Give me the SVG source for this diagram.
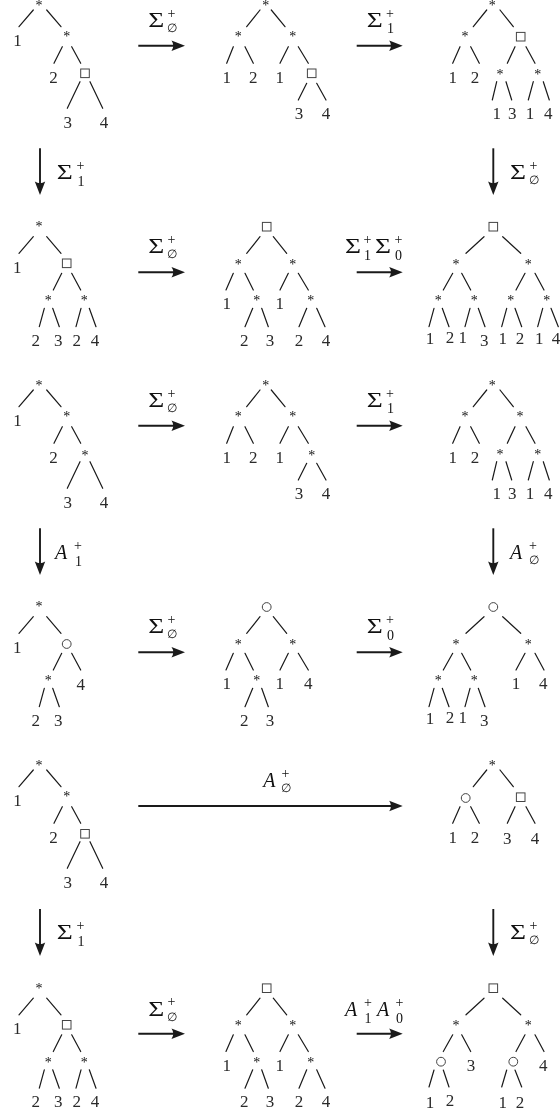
<svg xmlns="http://www.w3.org/2000/svg" width="560" height="1113" viewBox="0 0 560 1113">
<style>
.e{stroke:#1a1a1a;stroke-width:1.2;fill:none;stroke-linecap:round}
.d{font-family:'Liberation Serif','Times New Roman','DejaVu Serif',serif;font-size:17px;fill:#2a2a2a;text-anchor:middle}
.s{font-family:'Liberation Serif','Times New Roman','DejaVu Serif',serif;font-size:14px;fill:#111;text-anchor:middle}
.b{fill:#fff;stroke:#444;stroke-width:1}
.a{stroke:#1a1a1a;stroke-width:1.9;fill:none}
.L{font-family:'Liberation Serif','Times New Roman','DejaVu Serif',serif;font-size:20px;fill:#111}
.I{font-family:'Liberation Serif','Times New Roman','DejaVu Serif',serif;font-size:20px;font-style:italic;fill:#111}
.m{font-family:'Liberation Serif','Times New Roman','DejaVu Serif',serif;font-size:14px;fill:#111}
.o{font-family:'DejaVu Serif',serif;font-size:12px;fill:#111}
</style>
<defs>
<marker id="ah" markerUnits="userSpaceOnUse" markerWidth="14" markerHeight="12" viewBox="0 0 14 12" refX="8" refY="6" orient="auto"><path d="M14 6L0.5 0.8Q4 6 0.5 11.2Z" fill="#1a1a1a"/></marker>
<filter id="gray" filterUnits="userSpaceOnUse" x="0" y="0" width="560" height="1113" color-interpolation-filters="sRGB"><feColorMatrix type="saturate" values="0"/></filter>
</defs>
<rect width="560" height="1113" fill="#fff"/>
<g filter="url(#gray)">
<rect width="560" height="1113" fill="#fff"/>

<!-- Row 1 -->
<g id="t1">
<path class="e" d="M33.3 10L19 26.7M46.7 10L61 26.7M62.3 46.7L54 63.3M71.7 46.7L80.7 63.3M80 81.7L67.3 108.3M90 81.7L102.7 108.3"/>
<text class="s" x="39" y="10">*</text><text class="s" x="66.7" y="41">*</text>
<rect class="b" x="80.7" y="69" width="8.6" height="8.6"/>
<text class="d" x="17.5" y="45.8">1</text><text class="d" x="53.5" y="82.8">2</text><text class="d" x="67.7" y="128.1">3</text><text class="d" x="104" y="128.1">4</text>
</g>
<g id="t2">
<path class="e" d="M260 10L246.7 26.7M271.3 10L285 26.7M233.3 46.7L226.7 63.3M245 46.7L253.3 63.3M288.3 46.7L280 63.3M298.3 46.7L308.3 63.3M306.7 83.3L298.3 100M316.7 83.3L326 100"/>
<text class="s" x="265.7" y="10">*</text><text class="s" x="238.3" y="41.3">*</text><text class="s" x="292.7" y="41.3">*</text>
<rect class="b" x="307.4" y="69" width="8.6" height="8.6"/>
<text class="d" x="226.7" y="82.5">1</text><text class="d" x="253.3" y="82.5">2</text><text class="d" x="279.7" y="82.5">1</text><text class="d" x="299" y="119.1">3</text><text class="d" x="326" y="119.1">4</text>
</g>
<g id="t3">
<path class="e" d="M486.7 10L473.3 26.7M500 10L513.3 26.7M460 46.7L452.7 63.3M470.7 46.7L479.3 63.3M515 46.7L507.3 63.3M526 46.7L535 63.3M496.7 81.7L492.3 100M506 81.7L511.7 100M533.3 81.7L528.3 100M543.3 81.7L549.3 100"/>
<text class="s" x="492.3" y="10">*</text><text class="s" x="465" y="41.3">*</text><text class="s" x="500" y="78.7">*</text><text class="s" x="537.7" y="78.7">*</text>
<rect class="b" x="516.4" y="32.4" width="8.6" height="8.6"/>
<text class="d" x="452.7" y="82.5">1</text><text class="d" x="475" y="82.5">2</text><text class="d" x="496.7" y="119.1">1</text><text class="d" x="512.3" y="119.1">3</text><text class="d" x="530" y="119.1">1</text><text class="d" x="548.3" y="119.1">4</text>
</g>

<!-- Row 2 -->
<g id="t4">
<path class="e" d="M33.3 236.7L19 253.3M46.7 236.7L61 253.3M61.7 273.3L53.3 290M71.7 273.3L80.7 290M44.3 308.3L39.3 326.7M52.7 308.3L59.3 326.7M81 308.3L76 326.7M89.3 308.3L96 326.7"/>
<text class="s" x="39" y="231.3">*</text><text class="s" x="48.3" y="305.3">*</text><text class="s" x="84.3" y="305.3">*</text>
<rect class="b" x="62.4" y="259" width="8.6" height="8.6"/>
<text class="d" x="17.3" y="272.5">1</text><text class="d" x="35.7" y="345.8">2</text><text class="d" x="58.3" y="345.8">3</text><text class="d" x="76.7" y="345.8">2</text><text class="d" x="95" y="345.8">4</text>
</g>
<g id="t5">
<path class="e" d="M260 236.7L246.7 253.3M273.3 236.7L286.7 253.3M233.3 273.3L226 290M245 273.3L253.3 290M252.7 308.3L245 326.7M261.7 308.3L268.3 326.7M288.3 273.3L280 290M298.3 273.3L308.3 290M306.7 308.3L299 326.7M316.7 308.3L325 326.7"/>
<rect class="b" x="262.4" y="222.4" width="8.6" height="8.6"/>
<text class="s" x="238.3" y="268.7">*</text><text class="s" x="256.7" y="305.3">*</text><text class="s" x="292.7" y="268.7">*</text><text class="s" x="310.7" y="305.3">*</text>
<text class="d" x="226.7" y="309.1">1</text><text class="d" x="244.3" y="345.8">2</text><text class="d" x="270" y="345.8">3</text><text class="d" x="279.7" y="309.1">1</text><text class="d" x="299" y="345.8">2</text><text class="d" x="326" y="345.8">4</text>
</g>
<g id="t6">
<path class="e" d="M484 236.7L466 253.3M502.7 236.7L520.7 253.3M452.7 273.3L443.3 290M461.7 273.3L470.7 290M525 273.3L516 290M535 273.3L544 290M434 308.3L429 326.7M442.3 308.3L449 326.7M470 308.3L465 326.7M478.3 308.3L485 326.7M506.7 308.3L501.7 326.7M515 308.3L521.7 326.7M542.7 308.3L537.7 326.7M551 308.3L558.3 326.7"/>
<rect class="b" x="489" y="222.4" width="8.6" height="8.6"/>
<text class="s" x="456" y="268.7">*</text><text class="s" x="528.3" y="268.7">*</text><text class="s" x="438.3" y="305.3">*</text><text class="s" x="474.3" y="305.3">*</text><text class="s" x="510.7" y="305.3">*</text><text class="s" x="546.7" y="305.3">*</text>
<text class="d" x="430" y="344.1">1</text><text class="d" x="450" y="342.5">2</text><text class="d" x="462.7" y="342.5">1</text><text class="d" x="484.3" y="345.8">3</text><text class="d" x="502.7" y="344.1">1</text><text class="d" x="520" y="344.1">2</text><text class="d" x="539.3" y="344.1">1</text><text class="d" x="556" y="344.1">4</text>
</g>

<!-- Row 3 -->
<g id="t7" transform="translate(0,380)">
<path class="e" d="M33.3 10L19 26.7M46.7 10L61 26.7M62.3 46.7L54 63.3M71.7 46.7L80.7 63.3M80 81.7L67.3 108.3M90 81.7L102.7 108.3"/>
<text class="s" x="39" y="10">*</text><text class="s" x="66.7" y="41">*</text><text class="s" x="85" y="80.3">*</text>
<text class="d" x="17.5" y="45.8">1</text><text class="d" x="53.5" y="82.8">2</text><text class="d" x="67.7" y="128.1">3</text><text class="d" x="104" y="128.1">4</text>
</g>
<g id="t8" transform="translate(0,380)">
<path class="e" d="M260 10L246.7 26.7M271.3 10L285 26.7M233.3 46.7L226.7 63.3M245 46.7L253.3 63.3M288.3 46.7L280 63.3M298.3 46.7L308.3 63.3M306.7 83.3L298.3 100M316.7 83.3L326 100"/>
<text class="s" x="265.7" y="10">*</text><text class="s" x="238.3" y="41.3">*</text><text class="s" x="292.7" y="41.3">*</text><text class="s" x="311.7" y="79.7">*</text>
<text class="d" x="226.7" y="82.5">1</text><text class="d" x="253.3" y="82.5">2</text><text class="d" x="279.7" y="82.5">1</text><text class="d" x="299" y="119.1">3</text><text class="d" x="326" y="119.1">4</text>
</g>
<g id="t9" transform="translate(0,380)">
<path class="e" d="M486.7 10L473.3 26.7M500 10L513.3 26.7M460 46.7L452.7 63.3M470.7 46.7L479.3 63.3M515 46.7L507.3 63.3M526 46.7L535 63.3M496.7 81.7L492.3 100M506 81.7L511.7 100M533.3 81.7L528.3 100M543.3 81.7L549.3 100"/>
<text class="s" x="492.3" y="10">*</text><text class="s" x="465" y="41.3">*</text><text class="s" x="520" y="41.3">*</text><text class="s" x="500" y="78.7">*</text><text class="s" x="537.7" y="78.7">*</text>
<text class="d" x="452.7" y="82.5">1</text><text class="d" x="475" y="82.5">2</text><text class="d" x="496.7" y="119.1">1</text><text class="d" x="512.3" y="119.1">3</text><text class="d" x="530" y="119.1">1</text><text class="d" x="548.3" y="119.1">4</text>
</g>

<!-- Row 4 -->
<g id="t10" transform="translate(0,380)">
<path class="e" d="M33.3 236.7L19 253.3M46.7 236.7L61 253.3M61.7 273.3L53.3 290M71.7 273.3L80.7 290M44.3 308.3L39.3 326.7M52.7 308.3L59.3 326.7"/>
<text class="s" x="39" y="231.3">*</text><text class="s" x="48.3" y="305.3">*</text>
<circle class="b" cx="66.7" cy="264" r="4.4"/>
<text class="d" x="17.3" y="272.5">1</text><text class="d" x="80.7" y="309.8">4</text><text class="d" x="35.7" y="345.8">2</text><text class="d" x="58.3" y="345.8">3</text>
</g>
<g id="t11" transform="translate(0,380)">
<path class="e" d="M260 236.7L246.7 253.3M273.3 236.7L286.7 253.3M233.3 273.3L226 290M245 273.3L253.3 290M252.7 308.3L245 326.7M261.7 308.3L268.3 326.7M288.3 273.3L280 290M298.3 273.3L308.3 290"/>
<circle class="b" cx="266.7" cy="227" r="4.4"/>
<text class="s" x="238.3" y="268.7">*</text><text class="s" x="256.7" y="305.3">*</text><text class="s" x="292.7" y="268.7">*</text>
<text class="d" x="226.7" y="309.1">1</text><text class="d" x="244.3" y="345.8">2</text><text class="d" x="270" y="345.8">3</text><text class="d" x="279.7" y="309.1">1</text><text class="d" x="308.3" y="309.1">4</text>
</g>
<g id="t12" transform="translate(0,380)">
<path class="e" d="M484 236.7L466 253.3M502.7 236.7L520.7 253.3M452.7 273.3L443.3 290M461.7 273.3L470.7 290M525 273.3L516 290M535 273.3L544 290M434 308.3L429 326.7M442.3 308.3L449 326.7M470 308.3L465 326.7M478.3 308.3L485 326.7"/>
<circle class="b" cx="493.3" cy="227" r="4.4"/>
<text class="s" x="456" y="268.7">*</text><text class="s" x="528.3" y="268.7">*</text><text class="s" x="438.3" y="305.3">*</text><text class="s" x="474.3" y="305.3">*</text>
<text class="d" x="430" y="344.1">1</text><text class="d" x="450" y="342.5">2</text><text class="d" x="462.7" y="342.5">1</text><text class="d" x="484.3" y="345.8">3</text><text class="d" x="516" y="309.1">1</text><text class="d" x="543.3" y="309.1">4</text>
</g>

<!-- Row 5 -->
<g id="t13" transform="translate(0,760)">
<path class="e" d="M33.3 10L19 26.7M46.7 10L61 26.7M62.3 46.7L54 63.3M71.7 46.7L80.7 63.3M80 81.7L67.3 108.3M90 81.7L102.7 108.3"/>
<text class="s" x="39" y="10">*</text><text class="s" x="66.7" y="41">*</text>
<rect class="b" x="80.7" y="69.5" width="8.6" height="8.6"/>
<text class="d" x="17.5" y="45.8">1</text><text class="d" x="53.5" y="82.8">2</text><text class="d" x="67.7" y="128.1">3</text><text class="d" x="104" y="128.1">4</text>
</g>
<g id="t14" transform="translate(0,760)">
<path class="e" d="M486.7 10L473.3 26.7M500 10L513.3 26.7M460 46.7L452.7 63.3M470.7 46.7L479.3 63.3M515 46.7L507.3 63.3M526 46.7L535 63.3"/>
<text class="s" x="492.3" y="10">*</text>
<circle class="b" cx="465.7" cy="38" r="4.4"/>
<rect class="b" x="516.4" y="32.9" width="8.6" height="8.6"/>
<text class="d" x="452.7" y="82.5">1</text><text class="d" x="475" y="82.5">2</text><text class="d" x="507.3" y="84">3</text><text class="d" x="535" y="84">4</text>
</g>

<!-- Row 6 -->
<g id="t16" transform="translate(0,761.5)">
<path class="e" d="M33.3 236.7L19 253.3M46.7 236.7L61 253.3M61.7 273.3L53.3 290M71.7 273.3L80.7 290M44.3 308.3L39.3 326.7M52.7 308.3L59.3 326.7M81 308.3L76 326.7M89.3 308.3L96 326.7"/>
<text class="s" x="39" y="231.3">*</text><text class="s" x="48.3" y="305.3">*</text><text class="s" x="84.3" y="305.3">*</text>
<rect class="b" x="62.4" y="259" width="8.6" height="8.6"/>
<text class="d" x="17.3" y="272.5">1</text><text class="d" x="35.7" y="345.8">2</text><text class="d" x="58.3" y="345.8">3</text><text class="d" x="76.7" y="345.8">2</text><text class="d" x="95" y="345.8">4</text>
</g>
<g id="t17" transform="translate(0,761.5)">
<path class="e" d="M260 236.7L246.7 253.3M273.3 236.7L286.7 253.3M233.3 273.3L226 290M245 273.3L253.3 290M252.7 308.3L245 326.7M261.7 308.3L268.3 326.7M288.3 273.3L280 290M298.3 273.3L308.3 290M306.7 308.3L299 326.7M316.7 308.3L325 326.7"/>
<rect class="b" x="262.4" y="222.4" width="8.6" height="8.6"/>
<text class="s" x="238.3" y="268.7">*</text><text class="s" x="256.7" y="305.3">*</text><text class="s" x="292.7" y="268.7">*</text><text class="s" x="310.7" y="305.3">*</text>
<text class="d" x="226.7" y="309.1">1</text><text class="d" x="244.3" y="345.8">2</text><text class="d" x="270" y="345.8">3</text><text class="d" x="279.7" y="309.1">1</text><text class="d" x="299" y="345.8">2</text><text class="d" x="326" y="345.8">4</text>
</g>
<g id="t18" transform="translate(0,761.5)">
<path class="e" d="M484 236.7L466 253.3M502.7 236.7L520.7 253.3M452.7 273.3L443.3 290M461.7 273.3L470.7 290M525 273.3L516 290M535 273.3L544 290M434 308.5L429 325.5M443.3 308.5L449 325.5M506.7 308.5L501.7 325.5M515 308.5L521.7 325.5"/>
<rect class="b" x="489" y="222.4" width="8.6" height="8.6"/>
<text class="s" x="456" y="268.7">*</text><text class="s" x="528.3" y="268.7">*</text>
<circle class="b" cx="441" cy="300.2" r="4.4"/><circle class="b" cx="513.3" cy="300.2" r="4.4"/>
<text class="d" x="471" y="309.3">3</text><text class="d" x="543.3" y="309.3">4</text>
<text class="d" x="430" y="346">1</text><text class="d" x="450" y="344.3">2</text><text class="d" x="502.7" y="346">1</text><text class="d" x="520" y="346">2</text>
</g>

<!-- Connectors -->
<g id="connectors">
<g id="arrows">
<path class="a" d="M138.3 45.7H179" marker-end="url(#ah)"/>
<path class="a" d="M356.7 45.7H396.7" marker-end="url(#ah)"/>
<path class="a" d="M138.3 272.3H179" marker-end="url(#ah)"/>
<path class="a" d="M356.7 272.3H396.7" marker-end="url(#ah)"/>
<path class="a" d="M138.3 425.7H179" marker-end="url(#ah)"/>
<path class="a" d="M356.7 425.7H396.7" marker-end="url(#ah)"/>
<path class="a" d="M138.3 652.3H179" marker-end="url(#ah)"/>
<path class="a" d="M356.7 652.3H396.7" marker-end="url(#ah)"/>
<path class="a" d="M138.3 806H396.7" marker-end="url(#ah)"/>
<path class="a" d="M138.3 1033.8H179" marker-end="url(#ah)"/>
<path class="a" d="M356.7 1033.8H396.7" marker-end="url(#ah)"/>
<path class="a" d="M40 148.3V189" marker-end="url(#ah)"/>
<path class="a" d="M493.3 148.3V189" marker-end="url(#ah)"/>
<path class="a" d="M40 528.3V569" marker-end="url(#ah)"/>
<path class="a" d="M493.3 528.3V569" marker-end="url(#ah)"/>
<path class="a" d="M40 909V950" marker-end="url(#ah)"/>
<path class="a" d="M493.3 909V950" marker-end="url(#ah)"/>
</g>
<g id="labels">
<text class="L" x="148.3" y="26.7" textLength="16" lengthAdjust="spacingAndGlyphs">Σ</text><text class="m" x="167.5" y="17.5">+</text><text class="o" x="167" y="31.7">∅</text>
<text class="L" x="366.7" y="26.7" textLength="16" lengthAdjust="spacingAndGlyphs">Σ</text><text class="m" x="386" y="17.5">+</text><text class="m" x="387" y="33.3">1</text>
<text class="L" x="148.3" y="253.3" textLength="16" lengthAdjust="spacingAndGlyphs">Σ</text><text class="m" x="167.5" y="244.1">+</text><text class="o" x="167" y="258.3">∅</text>
<text class="L" x="345" y="253.3" textLength="16" lengthAdjust="spacingAndGlyphs">Σ</text><text class="m" x="363.5" y="244.1">+</text><text class="m" x="364" y="260">1</text>
<text class="L" x="375" y="253.3" textLength="16" lengthAdjust="spacingAndGlyphs">Σ</text><text class="m" x="394.5" y="244.1">+</text><text class="m" x="395" y="260">0</text>
<text class="L" x="148.3" y="406.7" textLength="16" lengthAdjust="spacingAndGlyphs">Σ</text><text class="m" x="167.5" y="397.5">+</text><text class="o" x="167" y="411.7">∅</text>
<text class="L" x="366.7" y="406.7" textLength="16" lengthAdjust="spacingAndGlyphs">Σ</text><text class="m" x="386" y="397.5">+</text><text class="m" x="387" y="413.3">1</text>
<text class="L" x="148.3" y="633.3" textLength="16" lengthAdjust="spacingAndGlyphs">Σ</text><text class="m" x="167.5" y="624.1">+</text><text class="o" x="167" y="638.3">∅</text>
<text class="L" x="366.7" y="633.3" textLength="16" lengthAdjust="spacingAndGlyphs">Σ</text><text class="m" x="386" y="624.1">+</text><text class="m" x="387" y="640">0</text>
<text class="I" x="263.3" y="786.7">A</text><text class="m" x="281.5" y="777.5">+</text><text class="o" x="281" y="791.7">∅</text>
<text class="L" x="148.3" y="1015.5" textLength="16" lengthAdjust="spacingAndGlyphs">Σ</text><text class="m" x="167.5" y="1006.3">+</text><text class="o" x="167" y="1020.5">∅</text>
<text class="I" x="345" y="1016">A</text><text class="m" x="364" y="1006.8">+</text><text class="m" x="364.5" y="1022.6">1</text>
<text class="I" x="377" y="1016">A</text><text class="m" x="395.5" y="1006.8">+</text><text class="m" x="396" y="1022.6">0</text>
<text class="L" x="56.7" y="179" textLength="16" lengthAdjust="spacingAndGlyphs">Σ</text><text class="m" x="76.5" y="169.8">+</text><text class="m" x="77.5" y="185.6">1</text>
<text class="L" x="510" y="179" textLength="16" lengthAdjust="spacingAndGlyphs">Σ</text><text class="m" x="529.5" y="169.8">+</text><text class="o" x="529" y="184">∅</text>
<text class="I" x="55" y="559">A</text><text class="m" x="74" y="549.8">+</text><text class="m" x="75" y="565.6">1</text>
<text class="I" x="510" y="559">A</text><text class="m" x="529" y="549.8">+</text><text class="o" x="528.5" y="564">∅</text>
<text class="L" x="56.7" y="939" textLength="16" lengthAdjust="spacingAndGlyphs">Σ</text><text class="m" x="76.5" y="929.8">+</text><text class="m" x="77.5" y="945.6">1</text>
<text class="L" x="510" y="939" textLength="16" lengthAdjust="spacingAndGlyphs">Σ</text><text class="m" x="529.5" y="929.8">+</text><text class="o" x="529" y="944">∅</text>
</g>
</g>
</g>
</svg>
